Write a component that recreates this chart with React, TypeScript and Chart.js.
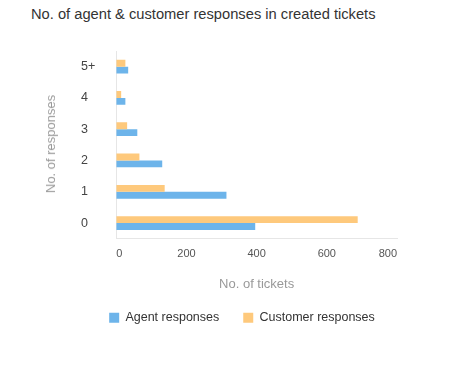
import React, { useEffect, useRef } from "react";
import { Chart, registerables } from "chart.js";

Chart.register(...registerables);

const categories = ["5+", "4", "3", "2", "1", "0"];
const agentResponses = [34, 26, 60, 131, 314, 396];
const customerResponses = [26, 14, 31, 66, 138, 688];
const xTicks = [0, 200, 400, 600, 800];

const FONT = "'Liberation Sans', Arial, sans-serif";

export default function App() {
  const ref = useRef<HTMLCanvasElement | null>(null);

  useEffect(() => {
    const canvas = ref.current;
    if (!canvas) return;
    const chart = new Chart(canvas, {
      type: "bar",
      data: {
        labels: categories,
        datasets: [
          {
            label: "Customer responses",
            data: customerResponses,
            backgroundColor: "#fec97c",
            categoryPercentage: 0.44,
            barPercentage: 1,
          },
          {
            label: "Agent responses",
            data: agentResponses,
            backgroundColor: "#6db4ea",
            categoryPercentage: 0.44,
            barPercentage: 1,
          },
        ],
      },
      options: {
        indexAxis: "y",
        responsive: false,
        animation: false,
        maintainAspectRatio: false,
        layout: { padding: { left: 81, right: 61, top: 51, bottom: 45 } },
        plugins: {
          legend: {
            position: "bottom",
            reverse: true,
            labels: {
              boxWidth: 10,
              boxHeight: 10,
              padding: 24,
              color: "#333",
              font: { family: FONT, size: 12.5 },
            },
          },
          tooltip: { enabled: false },
        },
        scales: {
          x: {
            type: "linear",
            min: 0,
            max: 800,
            afterBuildTicks: (s: any) => {
              s.ticks = xTicks.map((v) => ({ value: v }));
            },
            grid: { display: false, drawTicks: false },
            border: { display: true, color: "#e6e6e6" },
            ticks: {
              align: "inner",
              padding: 9,
              color: "#555",
              font: { family: FONT, size: 11 },
            },
            title: {
              display: true,
              text: "No. of tickets",
              color: "#999",
              font: { family: FONT, size: 13 },
              padding: { top: 7, bottom: -5 },
            },
          },
          y: {
            grid: { display: false, drawTicks: false },
            border: { display: true, color: "#e6e6e6" },
            ticks: {
              crossAlign: "far",
              padding: 10.5,
              color: "#444",
              font: { family: FONT, size: 12.5 },
            },
          },
          y2: {
            type: "linear",
            position: "right",
            display: true,
            grid: { display: false, drawTicks: false },
            border: { display: false },
            ticks: { display: false },
            afterFit: (s: any) => {
              s.width = 6;
            },
          },
        },
      },
    } as any);
    return () => chart.destroy();
  }, []);

  return (
    <div
      style={{
        position: "fixed",
        left: 0,
        top: 0,
        width: 464,
        height: 379,
        background: "#fff",
      }}
    >
      <div
        style={{
          position: "absolute",
          left: 31,
          top: 5,
          fontFamily: FONT,
          fontSize: 14.7,
          lineHeight: "18px",
          color: "#333",
          whiteSpace: "nowrap",
        }}
      >
        No. of agent &amp; customer responses in created tickets
      </div>
      <canvas
        ref={ref}
        width={464}
        height={379}
        style={{ position: "absolute", left: 0, top: 0, width: 464, height: 379 }}
      />
      <div
        style={{
          position: "absolute",
          left: 51,
          top: 144,
          transform: "translate(-50%, -50%) rotate(-90deg)",
          fontFamily: FONT,
          fontSize: 13,
          lineHeight: "16px",
          color: "#999",
          whiteSpace: "nowrap",
        }}
      >
        No. of responses
      </div>
    </div>
  );
}
